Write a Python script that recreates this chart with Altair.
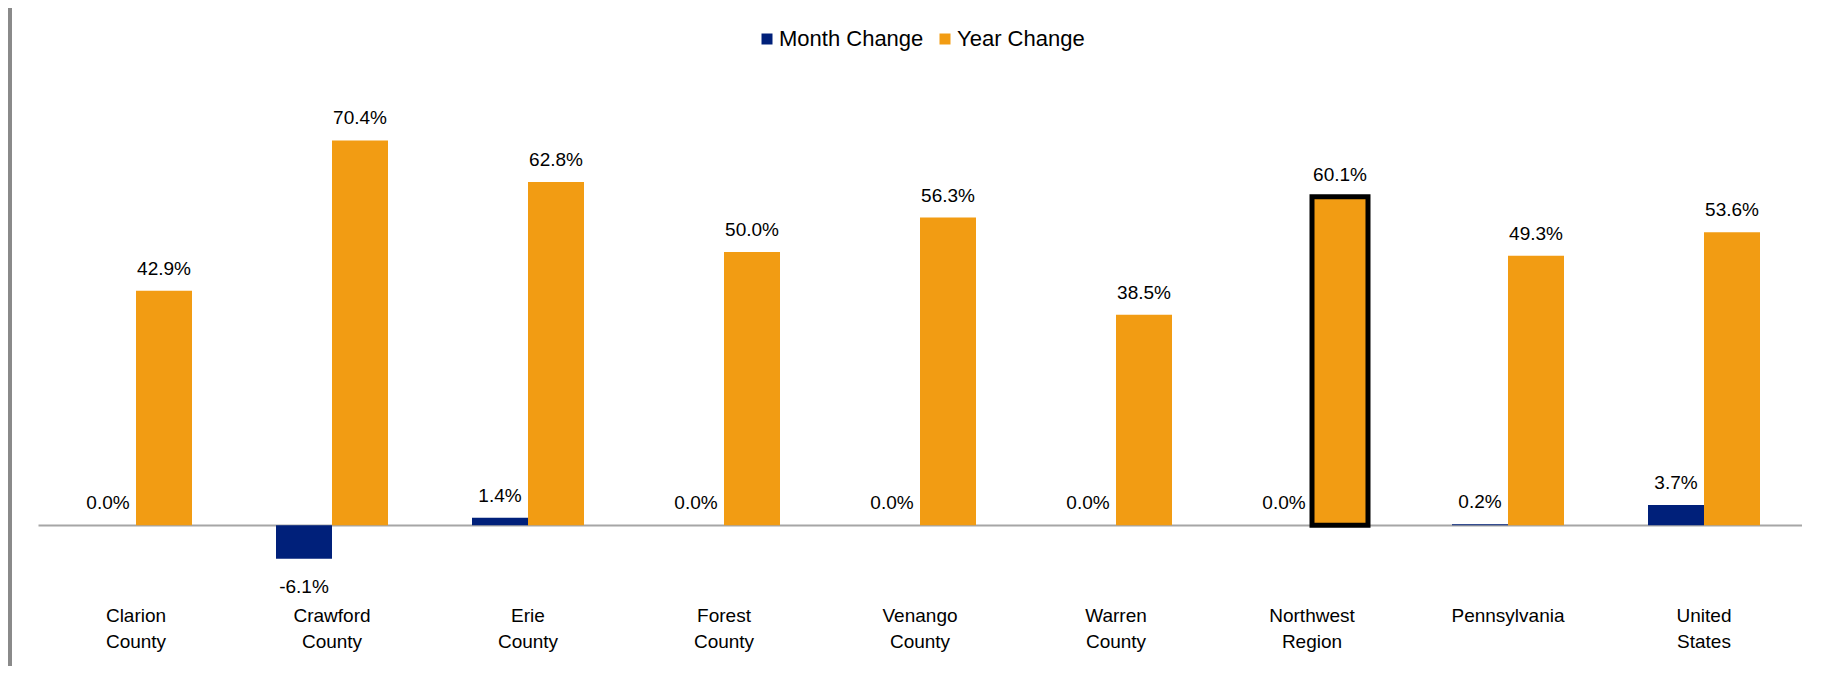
import altair as alt
import pandas as pd

regions = ["Clarion County", "Crawford County", "Erie County", "Forest County",
           "Venango County", "Warren County", "Northwest Region", "Pennsylvania",
           "United States"]
month_change = [0.0, -6.1, 1.4, 0.0, 0.0, 0.0, 0.0, 0.2, 3.7]
year_change = [42.9, 70.4, 62.8, 50.0, 56.3, 38.5, 60.1, 49.3, 53.6]
series = ["Month Change", "Year Change"]
colors = ["#00207A", "#F29C13"]
highlight_region = "Northwest Region"

rows = []
for r, m, y in zip(regions, month_change, year_change):
    rows.append({"region": r, "series": series[0], "value": m})
    rows.append({"region": r, "series": series[1], "value": y})
df = pd.DataFrame(rows)

FONT = "Liberation Sans, Arial"

x_enc = alt.X(
    "region:N", sort=regions,
    scale=alt.Scale(paddingInner=0.4286, paddingOuter=0.2143),
    axis=alt.Axis(title=None, labelExpr="split(datum.label, ' ')", ticks=False,
                  domain=False, grid=False, labelAngle=0, labelFont=FONT,
                  labelFontSize=19, labelColor="#000000", labelPadding=26,
                  labelLineHeight=26, labelBaseline="top"),
)
xo_enc = alt.XOffset("series:N", sort=series,
                     scale=alt.Scale(paddingInner=0, paddingOuter=0))
y_enc = alt.Y("value:Q", scale=alt.Scale(domain=[-10, 80], nice=False, zero=True),
              axis=alt.Axis(title=None, values=[0], labels=False, ticks=False,
                            domain=False, grid=True, gridColor="#A6A6A6",
                            gridWidth=2, gridOpacity=1))

is_highlight = (alt.datum.region == highlight_region) & (alt.datum.series == series[1])

base = alt.Chart(df).transform_calculate(
    label="(datum.value < 0 ? '-' : '') + format(abs(datum.value), '.1f') + '%'"
).encode(x=x_enc, xOffset=xo_enc, y=y_enc)

bars = base.mark_bar(stroke="#000000", cornerRadius=0).encode(
    color=alt.Color("series:N", sort=series,
                    scale=alt.Scale(domain=series, range=colors),
                    legend=alt.Legend(orient="none", direction="horizontal",
                                      legendX=718, legendY=-60,
                                      title=None,
                                      symbolType="square", symbolSize=121,
                                      symbolStrokeWidth=0,
                                      labelFont=FONT, labelFontSize=22,
                                      labelColor="#000000", labelOffset=1,
                                      columnPadding=10)),
    strokeWidth=alt.condition(is_highlight, alt.value(5), alt.value(0)),
)

labels = base.mark_text(
    baseline="alphabetic", align="center",
    dy=alt.ExprRef("datum.value < 0 ? 34 : -16"),
    font=FONT, fontSize=19, color="#000000",
).encode(text="label:N")

left_border = alt.Chart(df).mark_rule(color="#8A8A8A", strokeWidth=4).encode(
    x=alt.value(-28), y=alt.value(-90), y2=alt.value(600)
)

chart = alt.layer(bars, labels, left_border).properties(
    width=1764, height=492, autosize="none",
    padding={"left": 30, "top": 80, "right": 0, "bottom": 86},
).configure_view(strokeWidth=0)

chart.save("out.html", embed_options={"renderer": "svg", "actions": False})
